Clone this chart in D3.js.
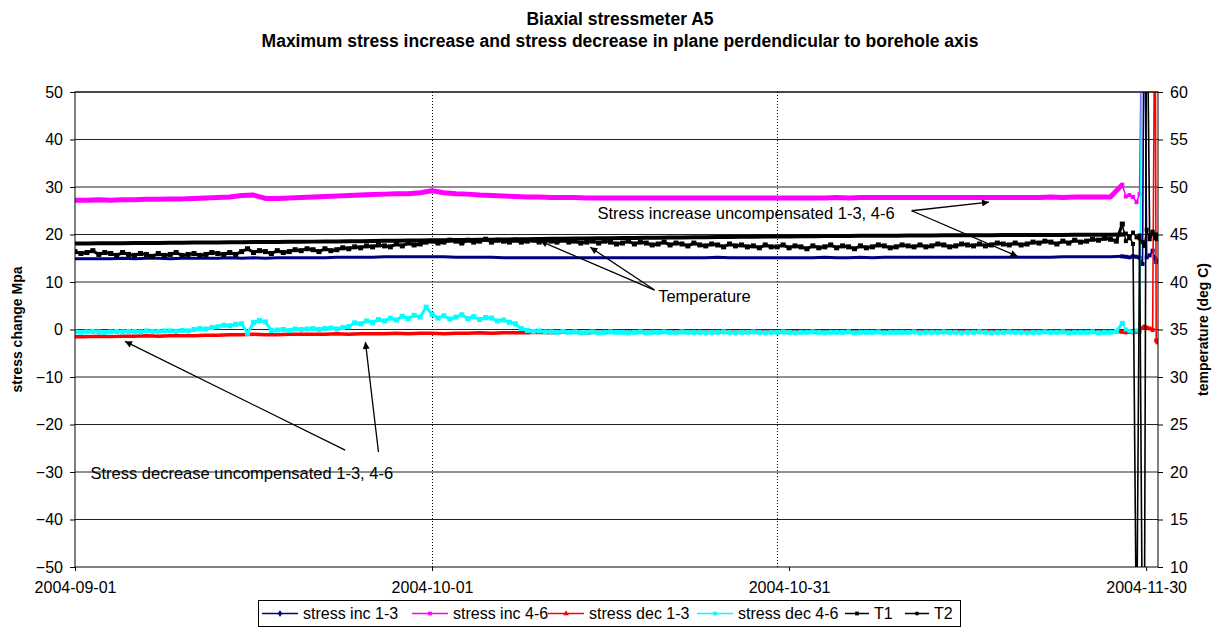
<!DOCTYPE html>
<html>
<head>
<meta charset="utf-8">
<script src="https://cdn.jsdelivr.net/npm/d3@7"></script>
<style>
  body { margin: 0; background: #fff; }
  text { font-family: "Liberation Sans", Arial, sans-serif; fill: #000; }
</style>
</head>
<body>
<svg id="chart" width="1218" height="639"></svg>
<script>
// ---- logger data: biaxial stressmeter A5 ----
const logStart = "2004-09-01";
const dailyStepHours = 24;
const halfDayStepHours = 12;

const seriesNames = ["stress inc 1-3", "stress inc 4-6", "stress dec 1-3", "stress dec 4-6", "T1", "T2"];
const xTickLabels = ["2004-09-01", "2004-10-01", "2004-10-31", "2004-11-30"];
const xGridDates = ["2004-10-01", "2004-10-30"];
const stressTicks = [-50, -40, -30, -20, -10, 0, 10, 20, 30, 40, 50];
const tempTicks = [10, 15, 20, 25, 30, 35, 40, 45, 50, 55, 60];

// daily readings (MPa)
const incA13 = [
  14.9,14.9,14.9,14.9,15.0,14.9,15.0,15.0,14.9,15.0,
  15.0,15.0,15.0,15.1,15.0,15.1,15.0,15.1,15.1,15.1,
  15.1,15.1,15.2,15.2,15.2,15.2,15.3,15.3,15.3,15.3,
  15.3,15.3,15.2,15.2,15.2,15.2,15.1,15.1,15.1,15.1,
  15.1,15.1,15.1,15.1,15.1,15.1,15.1,15.1,15.1,15.1,
  15.1,15.1,15.1,15.1,15.2,15.1,15.1,15.1,15.1,15.1,
  15.1,15.1,15.1,15.2,15.1,15.1,15.2,15.1,15.2,15.2,
  15.2,15.2,15.2,15.2,15.2,15.2,15.2,15.2,15.2,15.2,
  15.2,15.2,15.2,15.3,15.3,15.3,15.3,15.3,15.4
];
const incA46 = [
  27.2,27.2,27.3,27.2,27.3,27.3,27.4,27.4,27.5,27.5,
  27.6,27.7,27.8,27.9,28.2,28.3,27.6,27.6,27.7,27.8,
  27.9,28.0,28.1,28.2,28.3,28.4,28.5,28.6,28.6,28.8,
  29.2,28.8,28.6,28.5,28.3,28.2,28.1,28.0,27.9,27.9,
  27.8,27.8,27.8,27.7,27.7,27.7,27.7,27.7,27.7,27.7,
  27.7,27.7,27.7,27.7,27.7,27.7,27.7,27.7,27.7,27.7,
  27.7,27.7,27.7,27.7,27.8,27.7,27.8,27.8,27.8,27.8,
  27.8,27.8,27.8,27.8,27.8,27.8,27.8,27.8,27.8,27.8,
  27.8,27.8,27.9,27.8,27.9,27.9,27.9,27.9,30.5
];
const decA13 = [
  -1.5,-1.5,-1.4,-1.5,-1.4,-1.4,-1.3,-1.4,-1.3,-1.3,
  -1.3,-1.2,-1.2,-1.1,-1.1,-1.0,-1.1,-1.1,-1.0,-1.0,
  -1.0,-1.0,-0.9,-1.0,-0.9,-0.9,-0.9,-0.8,-0.9,-0.8,
  -0.8,-0.9,-0.8,-0.8,-0.7,-0.8,-0.7,-0.7,-0.7,-0.6,
  -0.7,-0.6,-0.6,-0.7,-0.6,-0.6,-0.6,-0.5,-0.6,-0.6,
  -0.5,-0.6,-0.5,-0.6,-0.5,-0.5,-0.6,-0.5,-0.5,-0.5,
  -0.5,-0.4,-0.5,-0.5,-0.5,-0.4,-0.5,-0.5,-0.4,-0.5,
  -0.5,-0.4,-0.4,-0.5,-0.4,-0.5,-0.4,-0.4,-0.5,-0.4,
  -0.4,-0.5,-0.4,-0.4,-0.4,-0.5,-0.4,-0.4,-0.5
];
// half-daily readings (MPa)
const decA46 = [
  -0.5,-0.6, -0.5,-0.4, -0.5,-0.6, -0.5,-0.4, -0.5,-0.4,
  -0.4,-0.5, -0.3,-0.4, -0.4,-0.3, -0.3,-0.4, -0.2,-0.3,
   0.0, 0.2,  0.1, 0.4,  0.6, 0.9,  0.8, 1.1,  1.2,-0.8,
   1.5, 1.9,  1.6,-0.2, -0.1, 0.0, -0.2, 0.1,  0.0, 0.1,
   0.2, 0.0,  0.2, 0.3,  0.1, 0.4,  0.6, 1.4,  1.2, 1.8,
   1.5, 2.1,  1.8, 2.4,  2.0, 2.8,  2.3, 3.0,  2.6, 4.7,
   3.2, 2.4,  2.9, 2.2,  2.6, 3.1,  2.3, 2.7,  2.1, 2.5,
   2.4, 1.8,  2.0, 1.5,  1.2, 0.2, -0.2,-0.4, -0.3,-0.5,
  -0.5,-0.6, -0.4,-0.6, -0.5,-0.7, -0.6,-0.5, -0.7,-0.6,
  -0.5,-0.6, -0.6,-0.7, -0.6,-0.5, -0.7,-0.6, -0.6,-0.5,
  -0.6,-0.7, -0.5,-0.6, -0.6,-0.6, -0.7,-0.6, -0.6,-0.5,
  -0.6,-0.7, -0.6,-0.6, -0.5,-0.6, -0.7,-0.6, -0.6,-0.5,
  -0.6,-0.7, -0.6,-0.6, -0.5,-0.6, -0.7,-0.6, -0.6,-0.6,
  -0.5,-0.7, -0.6,-0.6, -0.6,-0.5, -0.7,-0.6, -0.6,-0.6,
  -0.6,-0.5, -0.7,-0.6, -0.6,-0.6, -0.5,-0.6, -0.6,-0.7,
  -0.6,-0.6, -0.5,-0.6, -0.7,-0.6, -0.6,-0.5, -0.6,-0.6,
  -0.7,-0.6, -0.6,-0.5, -0.6,-0.6, -0.5,-0.7, -0.6,-0.6,
  -0.6,-0.5, -0.7,-0.6, -0.6,-0.4,
   1.3
];
// half-daily temperature (deg C)
const tempT1 = [
  43.2,43.0, 43.1,43.3, 42.9,43.1, 43.0,42.8, 43.1,42.9,
  42.8,43.0, 42.9,42.7, 43.0,42.8, 42.9,43.1, 42.8,42.9,
  43.0,42.8, 42.9,43.1, 43.0,42.9, 43.1,42.9, 43.2,43.5,
  43.1,43.3, 43.2,43.0, 43.3,43.1, 43.2,43.4, 43.3,43.5,
  43.4,43.2, 43.5,43.3, 43.4,43.6, 43.5,43.7, 43.6,43.8,
  43.7,43.9, 43.8,43.7, 44.0,43.8, 44.1,43.9, 44.0,44.2,
  44.3,44.1, 44.2,44.4, 44.3,44.1, 44.4,44.2, 44.3,44.5,
  44.2,44.4, 44.3,44.2, 44.4,44.2, 44.3,44.4, 44.2,44.4,
  44.3,44.2, 44.4,44.2, 44.3,44.1, 44.2,44.3, 44.1,44.3,
  44.2,44.0, 44.1,44.3, 44.0,44.2, 44.1,43.9, 44.0,44.2,
  43.9,44.1, 44.0,43.8, 44.1,43.9, 43.8,44.0, 43.9,43.7,
  44.0,43.8, 43.9,43.7, 43.8,43.6, 43.9,43.7, 43.7,43.9,
  43.6,43.8, 43.7,43.5, 43.8,43.6, 43.7,43.9, 43.6,43.8,
  43.7,43.5, 43.8,43.6, 43.7,43.9, 43.8,43.6, 43.7,43.9,
  43.8,43.7, 43.9,43.7, 43.8,44.0, 43.9,43.7, 43.8,44.0,
  43.9,43.8, 44.0,43.8, 43.9,44.1, 44.0,43.9, 44.1,43.9,
  44.0,44.2, 44.1,44.3, 44.2,44.0, 44.3,44.1, 44.4,44.2,
  44.3,44.5, 44.4,44.6, 44.5,44.3,
  46.1
];
// daily temperature (deg C)
const tempT2 = [
  44.05,44.05,44.07,44.08,44.08,44.10,44.11,44.11,44.13,44.14,
  44.15,44.15,44.17,44.18,44.19,44.20,44.20,44.22,44.23,44.24,
  44.25,44.26,44.27,44.29,44.30,44.31,44.33,44.34,44.36,44.37,
  44.39,44.40,44.42,44.43,44.45,44.46,44.48,44.49,44.51,44.52,
  44.54,44.55,44.57,44.58,44.60,44.61,44.62,44.64,44.65,44.66,
  44.68,44.69,44.70,44.72,44.73,44.74,44.75,44.76,44.78,44.79,
  44.80,44.81,44.82,44.83,44.84,44.85,44.86,44.86,44.87,44.88,
  44.89,44.89,44.90,44.91,44.91,44.92,44.93,44.93,44.94,44.94,
  44.95,44.95,44.96,44.96,44.97,44.97,44.98,44.98,45.00
];

// final readings while the gauge was being recovered (days after logStart)
const tailDays  = [88.3, 88.6, 88.9, 89.2, 89.45, 89.7, 89.85, 90.05, 90.3, 90.55, 90.75, 90.85, 90.95];
const tailInc13 = [15.3, 15.2, 15.4, 15.3, 15.1, 13.8, 80, 15.2, 15.6, 16.6, 15.0, 14.2, 14.5];
const tailInc46 = [28.0, 28.3, 27.9, 26.8, 28.5, 80, null, null, null, null, null, null, null];
const tailDec13 = [-0.6, -0.5, -0.6, -0.5, -0.4, 0.3, 0.6, 0.4, 0.2, -0.1, 80, -2.3, -2.7];
const tailDec46 = [0.0, -0.3, -0.5, -0.2, -0.6, 80, null, null, null, null, null, null, null];
const tailT1    = [44.3, 44.8, 44.0, 0, 44.6, 44.2, 43.8, 45.5, 44.5, 45.1, 44.6, 44.9, 44.5];
const tailT2    = [45.1, 44.6, 45.2, 44.7, 44.9, 0, 0, 75, 44.8, 45.3, 44.6, 45.0, 44.7];

// ---- layout ----
const svg = d3.select("#chart");
const plot = { left: 75, right: 1158, top: 92, bottom: 567 };
const parseDay = d3.utcParse("%Y-%m-%d");
const t0 = parseDay(logStart);
const x = d3.scaleUtc()
  .domain([t0, d3.utcDay.offset(t0, 91)])
  .range([plot.left, plot.right]);
const yStress = d3.scaleLinear().domain([-50, 50]).range([plot.bottom, plot.top]);
const yTemp = d3.scaleLinear().domain([10, 60]).range([plot.bottom, plot.top]);

const dayToDate = d => new Date(t0.getTime() + d * 864e5);

function bodyPoints(values, stepHours) {
  return values.map((v, i) => ({ t: dayToDate(i * stepHours / 24), v }));
}
function tailPoints(body, tailValues) {
  return [body[body.length - 1]].concat(tailDays.map((d, i) => ({ t: dayToDate(d), v: tailValues[i] })));
}

const seriesDefs = [
  { name: seriesNames[0], color: "#000080", width: 3,   y: yStress, vals: incA13, step: dailyStepHours,   tail: tailInc13, marker: "diamond",  dots: 0 },
  { name: seriesNames[1], color: "#ff00ff", width: 5,   y: yStress, vals: incA46, step: dailyStepHours,   tail: tailInc46, marker: "square",   dots: 0 },
  { name: seriesNames[2], color: "#ff0000", width: 3.5, y: yStress, vals: decA13, step: dailyStepHours,   tail: tailDec13, marker: "triangle", dots: 0 },
  { name: seriesNames[3], color: "#00ffff", width: 3,   y: yStress, vals: decA46, step: halfDayStepHours, tail: tailDec46, marker: "square",   dots: 5 },
  { name: seriesNames[4], color: "#000000", width: 3,   y: yTemp,   vals: tempT1, step: halfDayStepHours, tail: tailT1,    marker: "square",   dots: 5 },
  { name: seriesNames[5], color: "#000000", width: 4,   y: yTemp,   vals: tempT2, step: dailyStepHours,   tail: tailT2,    marker: "circle",   dots: 0 }
];
const series = seriesDefs.map(s => {
  const body = bodyPoints(s.vals, s.step);
  return Object.assign({}, s, { body, tailPts: tailPoints(body, s.tail) });
});

// title
svg.append("text").attr("x", 620).attr("y", 25).attr("text-anchor", "middle")
  .style("font-weight", "bold").style("font-size", "17.5px").text("Biaxial stressmeter A5");
svg.append("text").attr("x", 620).attr("y", 47).attr("text-anchor", "middle")
  .style("font-weight", "bold").style("font-size", "17.5px")
  .text("Maximum stress increase and stress decrease in plane perdendicular to borehole axis");

// horizontal grid
svg.append("g").selectAll("line").data(stressTicks.filter(v => v > -50)).join("line")
  .attr("x1", plot.left).attr("x2", plot.right)
  .attr("y1", d => yStress(d)).attr("y2", d => yStress(d))
  .attr("stroke", "#222").attr("stroke-width", 1);

// vertical dotted grid
svg.append("g").selectAll("line").data(xGridDates.map(parseDay)).join("line")
  .attr("x1", d => Math.round(x(d)) + 0.5).attr("x2", d => Math.round(x(d)) + 0.5)
  .attr("y1", plot.top).attr("y2", plot.bottom)
  .attr("stroke", "#000").attr("stroke-width", 1).attr("stroke-dasharray", "1,2");

// series
svg.append("clipPath").attr("id", "plotClip").append("rect")
  .attr("x", plot.left).attr("y", plot.top)
  .attr("width", plot.right - plot.left).attr("height", plot.bottom - plot.top);
const gSeries = svg.append("g").attr("clip-path", "url(#plotClip)");
series.forEach(s => {
  const line = d3.line().defined(p => p.v !== null)
    .x(p => x(p.t)).y(p => s.y(p.v));
  gSeries.append("path").datum(s.body)
    .attr("fill", "none").attr("stroke", s.color)
    .attr("stroke-width", s.width).attr("stroke-linejoin", "round")
    .attr("d", line);
  // sparse final readings: thin line with small markers
  gSeries.append("path").datum(s.tailPts)
    .attr("fill", "none").attr("stroke", s.color)
    .attr("stroke-width", 1.6).attr("stroke-linejoin", "round")
    .attr("d", line);
  gSeries.append("g").selectAll("rect").data(s.tailPts.filter(p => p.v !== null)).join("rect")
    .attr("x", p => x(p.t) - 2).attr("y", p => s.y(p.v) - 2)
    .attr("width", 4).attr("height", 4).attr("fill", s.color);
  if (s.dots > 0) {
    gSeries.append("g").selectAll("rect").data(s.body).join("rect")
      .attr("x", p => x(p.t) - s.dots / 2).attr("y", p => s.y(p.v) - s.dots / 2)
      .attr("width", s.dots).attr("height", s.dots).attr("fill", s.color);
  }
});

// frame and axes
svg.append("rect").attr("x", plot.left).attr("y", plot.top)
  .attr("width", plot.right - plot.left).attr("height", plot.bottom - plot.top)
  .attr("fill", "none").attr("stroke", "#000").attr("stroke-width", 1);

const axisFont = g => g.selectAll("text").style("font-size", "16px").style("font-family", "'Liberation Sans', Arial, sans-serif");
svg.append("g").attr("transform", `translate(${plot.left},0)`)
  .call(d3.axisLeft(yStress).tickValues(stressTicks).tickSize(5).tickPadding(7))
  .call(g => g.select(".domain").remove())
  .call(axisFont);
svg.append("g").attr("transform", `translate(${plot.right},0)`)
  .call(d3.axisRight(yTemp).tickValues(tempTicks).tickSize(5).tickPadding(7))
  .call(g => g.select(".domain").remove())
  .call(axisFont);
svg.append("g").attr("transform", `translate(0,${plot.bottom})`)
  .call(d3.axisBottom(x).tickValues(xTickLabels.map(parseDay)).tickSize(4).tickPadding(11)
    .tickFormat(d3.utcFormat("%Y-%m-%d")))
  .call(g => g.select(".domain").remove())
  .call(axisFont);

// axis titles
svg.append("text").attr("transform", `translate(22,${(plot.top + plot.bottom) / 2}) rotate(-90)`)
  .attr("text-anchor", "middle").style("font-weight", "bold").style("font-size", "14px")
  .text("stress change Mpa");
svg.append("text").attr("transform", `translate(1208,${(plot.top + plot.bottom) / 2}) rotate(-90)`)
  .attr("text-anchor", "middle").style("font-weight", "bold").style("font-size", "14px")
  .text("temperature (deg C)");

// annotations (anchored in data units)
const defs = svg.append("defs");
defs.append("marker").attr("id", "arrowHead").attr("viewBox", "0 0 10 10")
  .attr("refX", 10).attr("refY", 5).attr("markerWidth", 10).attr("markerHeight", 7)
  .attr("markerUnits", "userSpaceOnUse").attr("orient", "auto")
  .append("path").attr("d", "M0,0L10,5L0,10Z").attr("fill", "#000");

const notes = [
  { text: "Stress increase uncompensated 1-3, 4-6", day: 43.9, val: 23.3,
    arrows: [[70.3, 25.0, 76.8, 26.8], [70.3, 25.0, 79.2, 15.4]] },
  { text: "Temperature", day: 49.0, val: 5.7,
    arrows: [[48.7, 8.3, 39.1, 18.6], [48.7, 8.3, 43.3, 17.3]] },
  { text: "Stress decrease uncompensated 1-3, 4-6", day: 1.3, val: -31.5,
    arrows: [[22.7, -25.4, 4.2, -2.5], [25.5, -25.8, 24.4, -2.6]] }
];
notes.forEach(n => {
  svg.append("text").attr("x", x(dayToDate(n.day))).attr("y", yStress(n.val))
    .style("font-size", "16.5px").text(n.text);
  n.arrows.forEach(a => {
    svg.append("line")
      .attr("x1", x(dayToDate(a[0]))).attr("y1", yStress(a[1]))
      .attr("x2", x(dayToDate(a[2]))).attr("y2", yStress(a[3]))
      .attr("stroke", "#000").attr("stroke-width", 1.3).attr("marker-end", "url(#arrowHead)");
  });
});

// legend
const legendItems = [
  { x: 262, s: series[0] }, { x: 412, s: series[1] }, { x: 548, s: series[2] },
  { x: 697, s: series[3] }, { x: 845, s: series[4] }, { x: 905, s: series[5] }
];
const lg = svg.append("g");
lg.append("rect").attr("x", 258.5).attr("y", 600.5).attr("width", 702).attr("height", 26)
  .attr("fill", "#fff").attr("stroke", "#000");
const symbol = {
  diamond: d3.symbolDiamond, square: d3.symbolSquare, triangle: d3.symbolTriangle, circle: d3.symbolCircle
};
legendItems.forEach((it, i) => {
  const cy = 613.5;
  const len = i >= 4 ? 24 : 36;
  lg.append("line").attr("x1", it.x).attr("x2", it.x + len).attr("y1", cy).attr("y2", cy)
    .attr("stroke", it.s.color).attr("stroke-width", 1.5);
  lg.append("path").attr("transform", `translate(${it.x + len / 2},${cy})`)
    .attr("d", d3.symbol(symbol[it.s.marker], 14)()).attr("fill", it.s.color);
  lg.append("text").attr("x", it.x + len + 5).attr("y", cy + 5.5).style("font-size", "16px").text(it.s.name);
});
</script>
</body>
</html>
